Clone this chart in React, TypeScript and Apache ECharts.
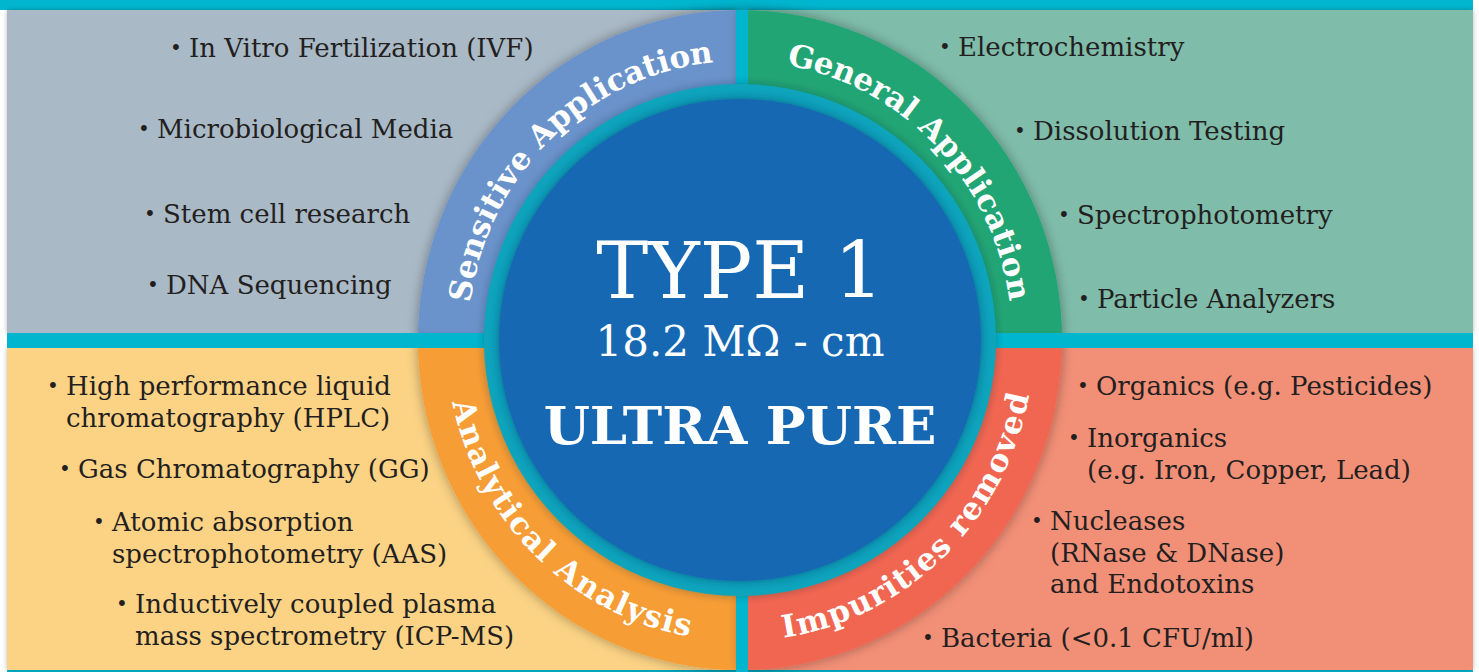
import React, { useEffect, useRef } from "react";
import * as echarts from "echarts";

// ---------- content ----------
const SECTION_TITLES = ["Sensitive Application", "General Application", "Analytical Analysis", "Impurities removed"];
const SENSITIVE_ITEMS = ["In Vitro Fertilization (IVF)", "Microbiological Media", "Stem cell research", "DNA Sequencing"];
const GENERAL_ITEMS = ["Electrochemistry", "Dissolution Testing", "Spectrophotometry", "Particle Analyzers"];
const ANALYTICAL_ITEMS = [
  "High performance liquid\nchromatography (HPLC)",
  "Gas Chromatography (GG)",
  "Atomic absorption\nspectrophotometry (AAS)",
  "Inductively coupled plasma\nmass spectrometry (ICP-MS)",
];
const IMPURITY_ITEMS = [
  "Organics (e.g. Pesticides)",
  "Inorganics\n(e.g. Iron, Copper, Lead)",
  "Nucleases\n(RNase & DNase)\nand Endotoxins",
  "Bacteria (<0.1 CFU/ml)",
];
const CENTER_TITLE = "TYPE 1";
const CENTER_SUBTITLE = "18.2 MΩ - cm";
const CENTER_TAG = "ULTRA PURE";

// ---------- layout ----------
const W = 1479;
const H = 672;
const CX = 740;
const CY = 340;
const RING_R = 330;
const RING_SX = 0.976;
const INNER_R = 256;
const CORE_R = 241;
const TEXT_R = 290;
const FONT = '"DejaVu Serif", serif';
const BODY_FS = 26;
const LINE_H = 31.5;
const ARC_FS = 31;

const TEAL = "#00B6CF";
const TEXT_DARK = "#231F20";

// text x (after bullet) and first baseline y for every item
const SENSITIVE_POS = [[189, 57], [157, 138], [163, 223], [166, 294]];
const GENERAL_POS = [[958, 56], [1033, 140], [1077, 224], [1097, 308]];
const ANALYTICAL_POS = [[66, 395], [78, 478], [112, 531], [135, 613]];
const IMPURITY_POS = [[1096, 395], [1087, 447], [1050, 530], [941, 647]];

const SECTIONS = [
  { title: SECTION_TITLES[0], items: SENSITIVE_ITEMS, pos: SENSITIVE_POS, panel: "#AAB9C6", ring: "#6A93CB", start: Math.PI, mid: 226, top: true, rect: [7, 10, 729, 323] },
  { title: SECTION_TITLES[1], items: GENERAL_ITEMS, pos: GENERAL_POS, panel: "#7FBCAA", ring: "#22A574", start: Math.PI * 1.5, mid: 316, top: true, rect: [748, 10, 725, 323] },
  { title: SECTION_TITLES[2], items: ANALYTICAL_ITEMS, pos: ANALYTICAL_POS, panel: "#FCD385", ring: "#F69D36", start: Math.PI * 0.5, mid: 134, top: false, rect: [7, 348, 729, 322] },
  { title: SECTION_TITLES[3], items: IMPURITY_ITEMS, pos: IMPURITY_POS, panel: "#F28F77", ring: "#F16651", start: 0, mid: 46, top: false, rect: [748, 348, 725, 322] },
];

function arcText(text: string, midDeg: number, top: boolean, fontSize: number) {
  const ctx = document.createElement("canvas").getContext("2d") as CanvasRenderingContext2D;
  ctx.font = `bold ${fontSize}px ${FONT}`;
  const spacing = 1;
  const chars = Array.from(text);
  const widths = chars.map((c) => ctx.measureText(c).width);
  const total = widths.reduce((a, b) => a + b, 0) + spacing * (chars.length - 1);
  const span = total / TEXT_R;
  const mid = (midDeg * Math.PI) / 180;
  let acc = 0;
  const els: any[] = [];
  chars.forEach((c, i) => {
    const off = (acc + widths[i] / 2) / TEXT_R - span / 2;
    acc += widths[i] + spacing;
    if (c === " ") return;
    const th = top ? mid + off : mid - off;
    const x = CX + TEXT_R * RING_SX * Math.cos(th);
    const y = CY + TEXT_R * Math.sin(th);
    const rot = top ? Math.PI * 1.5 - th : Math.PI * 0.5 - th;
    els.push({
      type: "text",
      x,
      y,
      rotation: rot,
      silent: true,
      style: {
        text: c,
        x: 0,
        y: 0,
        fill: "#FFFFFF",
        fontSize,
        fontWeight: "bold",
        fontFamily: FONT,
        align: "center",
        verticalAlign: "middle",
        textAlign: "center",
        textVerticalAlign: "middle",
      },
    });
  });
  return els;
}

function buildElements() {
  const els: any[] = [];
  els.push({ type: "rect", shape: { x: 0, y: 0, width: W, height: H }, style: { fill: "#FFFFFF" } });
  els.push({ type: "rect", shape: { x: 0, y: 0, width: 1473, height: 10 }, style: { fill: TEAL } });
  els.push({ type: "rect", shape: { x: 7, y: 0, width: 1466, height: H }, style: { fill: TEAL } });

  // panels
  SECTIONS.forEach((s) => {
    const [x, y, w, h] = s.rect;
    els.push({
      type: "rect",
      shape: { x, y, width: w, height: h },
      style: { fill: s.panel, shadowBlur: 5, shadowColor: "rgba(0,0,0,0.28)" },
    });
  });

  // ring sectors (slightly elliptical)
  els.push({
    type: "group",
    x: CX,
    y: CY,
    scaleX: RING_SX,
    children: SECTIONS.map((s) => ({
      type: "sector",
      shape: { cx: 0, cy: 0, r0: 0, r: RING_R, startAngle: s.start, endAngle: s.start + Math.PI / 2, clockwise: true },
      style: { fill: s.ring, shadowBlur: 12, shadowColor: "rgba(0,0,0,0.35)" },
    })),
  });

  // gaps
  els.push({ type: "rect", shape: { x: 7, y: 333, width: 1466, height: 15 }, style: { fill: TEAL } });
  els.push({ type: "rect", shape: { x: 736, y: 10, width: 12, height: H - 10 }, style: { fill: TEAL } });

  // inner teal ring + core
  els.push({
    type: "circle",
    shape: { cx: CX, cy: CY, r: INNER_R },
    style: { fill: "#0AA4BC", shadowBlur: 8, shadowColor: "rgba(0,40,60,0.35)" },
  });
  els.push({
    type: "circle",
    shape: { cx: CX, cy: CY, r: CORE_R },
    style: { fill: "#1967B3", shadowBlur: 10, shadowColor: "rgba(0,40,90,0.5)" },
  });

  // curved section titles
  SECTIONS.forEach((s) => {
    els.push(...arcText(s.title, s.mid, s.top, ARC_FS));
  });

  // center texts
  const centerText = (text: string, baseline: number, fs: number, weight: string) => ({
    type: "text",
    style: {
      text,
      x: CX,
      y: baseline - 0.346 * fs,
      fill: "#FFFFFF",
      fontSize: fs,
      fontWeight: weight,
      fontFamily: FONT,
      align: "center",
      verticalAlign: "middle",
      textAlign: "center",
      textVerticalAlign: "middle",
    },
  });
  els.push(centerText(CENTER_TITLE, 298, 78, "normal"));
  els.push(centerText(CENTER_SUBTITLE, 356, 42, "normal"));
  els.push(centerText(CENTER_TAG, 443, 53, "bold"));

  // bullet lists
  SECTIONS.forEach((s) => {
    s.items.forEach((item, i) => {
      const [tx, bl] = s.pos[i];
      els.push({
        type: "text",
        style: {
          text: "•",
          x: tx - 13,
          y: bl - 9,
          fill: TEXT_DARK,
          fontSize: 20,
          fontFamily: FONT,
          align: "center",
          verticalAlign: "middle",
          textAlign: "center",
          textVerticalAlign: "middle",
        },
      });
      els.push({
        type: "text",
        style: {
          text: item,
          x: tx,
          y: bl - 0.346 * BODY_FS - LINE_H / 2,
          fill: TEXT_DARK,
          fontSize: BODY_FS,
          fontFamily: FONT,
          lineHeight: LINE_H,
          align: "left",
          verticalAlign: "top",
          textAlign: "left",
          textVerticalAlign: "top",
        },
      });
    });
  });
  return els;
}

export default function App() {
  const ref = useRef<HTMLDivElement>(null);
  useEffect(() => {
    if (!ref.current) return;
    const chart = echarts.init(ref.current, undefined, { renderer: "svg" });
    chart.setOption({ animation: false, graphic: { elements: buildElements() } });
    return () => chart.dispose();
  }, []);
  return <div ref={ref} style={{ position: "absolute", left: 0, top: 0, width: W, height: H }} />;
}
